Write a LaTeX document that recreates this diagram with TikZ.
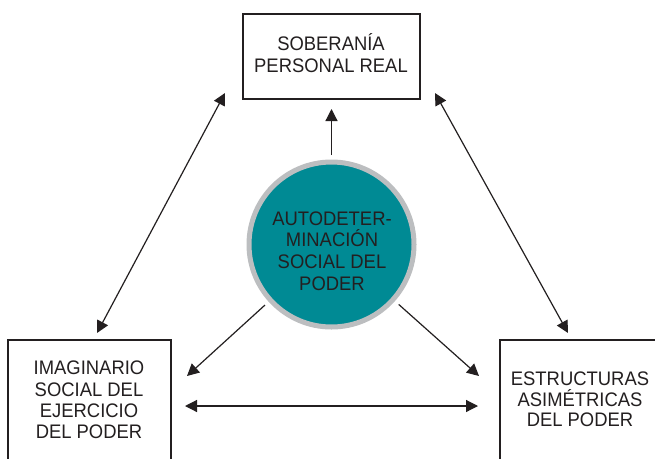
\documentclass[tikz,border=0pt]{standalone}
\usepackage{fontspec}
\setmainfont{Liberation Sans}[FakeStretch=0.94]
\usetikzlibrary{arrows.meta}
\definecolor{tealc}{RGB}{0,138,148}
\definecolor{ringc}{RGB}{188,190,192}
\definecolor{inkc}{RGB}{35,31,32}
\begin{document}
\begin{tikzpicture}[x=1pt,y=-1pt,
  box/.style={draw=inkc, line width=2.6pt, inner sep=0pt},
  lbl/.style={anchor=base, inner sep=0pt, text=inkc, font=\fontsize{19.6}{21}\selectfont},
  conn/.style={draw=inkc, line width=1.2pt, -{Triangle[length=12pt,width=12pt]}},
  biconn/.style={draw=inkc, line width=1.2pt, {Triangle[length=12pt,width=12pt]}-{Triangle[length=12pt,width=12pt]}}]
\clip (0,0) rectangle (655,458);
\fill[white] (0,0) rectangle (655,458);

% boxes
\node[box, minimum width=177pt, minimum height=85pt] (top) at (331.5,56.5) {};
\node[box, minimum width=163pt, minimum height=140pt] (left) at (89.5,410) {};
\node[box, minimum width=180pt, minimum height=140pt] (right) at (590,410) {};

% circle
\node[circle, fill=tealc, draw=ringc, line width=5pt, minimum size=165pt, inner sep=0pt] (circ) at (331.5,244.5) {};

% texts
\node[lbl] (t1) at (331,50.7) {SOBERANÍA};
\node[lbl] (t2) at (331,72.7) {PERSONAL REAL};

\node[lbl] (c1) at (332,225) {AUTODETER-};
\node[lbl] (c2) at (332,246.7) {MINACIÓN};
\node[lbl] (c3) at (332,268.3) {SOCIAL DEL};
\node[lbl] (c4) at (332,290) {PODER};

\node[lbl] (l1) at (89,374) {IMAGINARIO};
\node[lbl] (l2) at (89,396) {SOCIAL DEL};
\node[lbl] (l3) at (89,417) {EJERCICIO};
\node[lbl] (l4) at (89,438.3) {DEL PODER};

\node[lbl] (r1) at (580,385) {ESTRUCTURAS};
\node[lbl] (r2) at (580,406) {ASIMÉTRICAS};
\node[lbl] (r3) at (580,426.7) {DEL PODER};

% connector end points
\coordinate (tl) at (225,93);
\coordinate (lt) at (97,333);
\coordinate (tr) at (435,93);
\coordinate (rt) at (568,333);
\coordinate (cl) at (187,376);
\coordinate (cr) at (479,376);
\coordinate (hl) at (185,406);
\coordinate (hr) at (478,406);

% connectors
\draw[biconn] (tl) -- (lt);
\draw[biconn] (tr) -- (rt);
\draw[biconn] (hl) -- (hr);
\draw[conn, shorten <=4.5pt, shorten >=8.7pt] (circ) -- (top);
\draw[conn, shorten <=5pt] (circ) -- (cl);
\draw[conn, shorten <=5pt] (circ) -- (cr);
\end{tikzpicture}
\end{document}
